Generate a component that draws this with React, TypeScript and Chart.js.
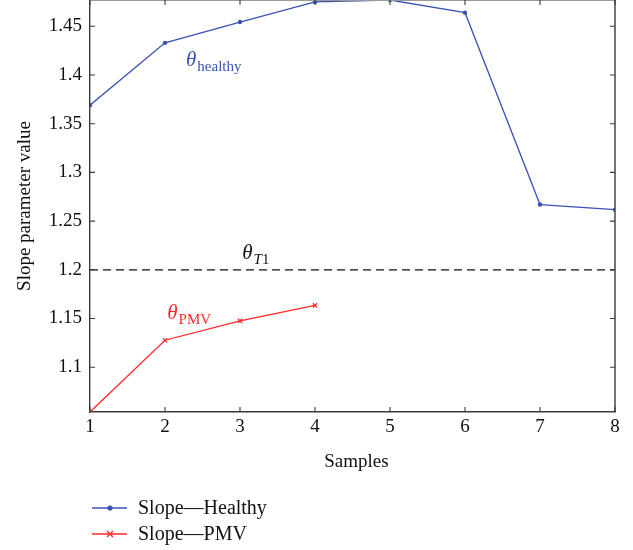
import React, { useEffect, useRef } from 'react';
import { Chart, registerables } from 'chart.js';

Chart.register(...registerables);

// Sample index on the x axis
const samples = [1, 2, 3, 4, 5, 6, 7, 8];
// Slope parameter estimates
const healthySlope = [1.369, 1.433, 1.4544, 1.475, 1.477, 1.464, 1.267, 1.2617];
const pmvSlope = [1.054, 1.1277, 1.1476, 1.1634];
// Decision threshold θ_T1
const thresholdT1 = 1.2;

const xTicks = [1, 2, 3, 4, 5, 6, 7, 8];
const yTicks = [1.1, 1.15, 1.2, 1.25, 1.3, 1.35, 1.4, 1.45];
const yTickLabels = ['1.1', '1.15', '1.2', '1.25', '1.3', '1.35', '1.4', '1.45'];
const yMin = 1.054;
const yMax = 1.477;

const xTitle = 'Samples';
const yTitle = 'Slope parameter value';
const legendLabels = ['Slope\u2014Healthy', 'Slope\u2014PMV'];

// In-plot labels: [x, y] in data units, then the text pieces
type Piece = { t: string; italic?: boolean; sub?: boolean };
const curveLabels: { x: number; y: number; color: string; pieces: Piece[] }[] = [
  { x: 2.28, y: 1.409, color: '#3a52b4', pieces: [{ t: '\u03b8', italic: true }, { t: 'healthy', sub: true }] },
  { x: 3.03, y: 1.211, color: '#111111', pieces: [{ t: '\u03b8', italic: true }, { t: 'T', italic: true, sub: true }, { t: '1', sub: true }] },
  { x: 2.03, y: 1.149, color: '#ff2a2a', pieces: [{ t: '\u03b8', italic: true }, { t: 'PMV', sub: true }] },
];

const BLUE = '#3a52b4';
const RED = '#ff2a2a';
const AXIS = '#3a3a3a';
const SERIF = '"Liberation Serif", "DejaVu Serif", serif';
const FS = 19;

const framePlugin = {
  id: 'frame',
  afterDraw(chart: any) {
    const { ctx, chartArea } = chart;
    const { left, right, top, bottom } = chartArea;
    const xs = chart.scales.x;
    const ys = chart.scales.y;
    ctx.save();
    // box: top and right sides
    ctx.strokeStyle = '#9a9a9a';
    ctx.lineWidth = 1;
    ctx.beginPath();
    ctx.moveTo(left, top + 0.5);
    ctx.lineTo(right, top + 0.5);
    ctx.stroke();
    ctx.strokeStyle = AXIS;
    ctx.lineWidth = 1.4;
    ctx.beginPath();
    ctx.moveTo(right, top);
    ctx.lineTo(right, bottom);
    ctx.stroke();
    // inward ticks
    const tl = 5;
    ctx.lineWidth = 1.1;
    ctx.strokeStyle = AXIS;
    ctx.beginPath();
    xTicks.forEach((v) => {
      const px = xs.getPixelForValue(v);
      ctx.moveTo(px, bottom);
      ctx.lineTo(px, bottom - tl);
      ctx.moveTo(px, top);
      ctx.lineTo(px, top + tl);
    });
    yTicks.forEach((v) => {
      const py = ys.getPixelForValue(v);
      ctx.moveTo(left, py);
      ctx.lineTo(left + tl, py);
      ctx.moveTo(right, py);
      ctx.lineTo(right - tl, py);
    });
    ctx.stroke();

    // x axis title
    ctx.fillStyle = '#111111';
    ctx.font = `${FS}px ${SERIF}`;
    ctx.textAlign = 'center';
    ctx.textBaseline = 'middle';
    ctx.fillText(xTitle, (left + right) / 2 + 4, bottom + 50);

    // curve labels
    curveLabels.forEach((lab) => {
      let cx = xs.getPixelForValue(lab.x);
      const base = ys.getPixelForValue(lab.y);
      ctx.fillStyle = lab.color;
      ctx.textBaseline = 'alphabetic';
      ctx.textAlign = 'left';
      lab.pieces.forEach((p) => {
        const size = p.sub ? 15 : 21;
        ctx.font = `${p.italic ? 'italic ' : ''}${size}px ${SERIF}`;
        const y = p.sub ? base + 5 : base;
        ctx.fillText(p.t, cx, y);
        cx += ctx.measureText(p.t).width + (p.sub ? 0 : 1);
      });
    });

    // legend below the axes
    const items = [
      { label: legendLabels[0], color: BLUE, marker: 'dot' },
      { label: legendLabels[1], color: RED, marker: 'cross' },
    ];
    items.forEach((it, i) => {
      const y = 508 + i * 26;
      ctx.strokeStyle = it.color;
      ctx.fillStyle = it.color;
      ctx.lineWidth = 1.3;
      ctx.beginPath();
      ctx.moveTo(92, y);
      ctx.lineTo(127, y);
      ctx.stroke();
      const mx = 110;
      if (it.marker === 'dot') {
        ctx.beginPath();
        ctx.arc(mx, y, 2.6, 0, Math.PI * 2);
        ctx.fill();
      } else {
        ctx.lineWidth = 1.4;
        ctx.beginPath();
        ctx.moveTo(mx - 3, y - 3);
        ctx.lineTo(mx + 3, y + 3);
        ctx.moveTo(mx + 3, y - 3);
        ctx.lineTo(mx - 3, y + 3);
        ctx.stroke();
      }
      ctx.fillStyle = '#111111';
      ctx.font = `20px ${SERIF}`;
      ctx.textAlign = 'left';
      ctx.textBaseline = 'middle';
      ctx.fillText(it.label, 138, y + 1);
    });
    ctx.restore();
  },
};

export default function App() {
  const canvasRef = useRef<HTMLCanvasElement | null>(null);

  useEffect(() => {
    document.body.style.margin = '0';
    const canvas = canvasRef.current;
    if (!canvas) return;
    const chart = new Chart(canvas, {
      type: 'line',
      data: {
        datasets: [
          {
            label: legendLabels[0],
            data: samples.map((s, i) => ({ x: s, y: healthySlope[i] })),
            borderColor: BLUE,
            backgroundColor: BLUE,
            borderWidth: 1.3,
            pointStyle: 'circle',
            pointRadius: 2.2,
            pointBorderWidth: 0,
            tension: 0,
          },
          {
            label: legendLabels[1],
            data: pmvSlope.map((v, i) => ({ x: samples[i], y: v })),
            borderColor: RED,
            backgroundColor: RED,
            borderWidth: 1.3,
            pointStyle: 'crossRot',
            pointRadius: 3,
            pointBorderWidth: 1.3,
            tension: 0,
          },
          {
            label: 'threshold',
            data: [
              { x: samples[0], y: thresholdT1 },
              { x: samples[samples.length - 1], y: thresholdT1 },
            ],
            borderColor: '#111111',
            borderWidth: 1.3,
            borderDash: [8, 5],
            pointRadius: 0,
          },
        ],
      },
      options: {
        responsive: false,
        animation: false,
        devicePixelRatio: 1,
        layout: { autoPadding: false, padding: { top: 0, right: 18, left: 0, bottom: 0 } },
        plugins: {
          legend: { display: false },
          tooltip: { enabled: false },
        },
        scales: {
          x: {
            type: 'linear',
            min: 1,
            max: 8,
            afterFit: (s: any) => {
              s.height = 138;
              s.paddingLeft = 0;
              s.paddingRight = 0;
            },
            afterBuildTicks: (s: any) => {
              s.ticks = xTicks.map((v) => ({ value: v }));
            },
            grid: { display: false, drawTicks: false },
            border: { display: true, color: AXIS, width: 1.4 },
            ticks: {
              color: '#111111',
              padding: 4,
              font: { family: SERIF, size: FS },
              maxRotation: 0,
              callback: (v: any) => String(v),
            },
          },
          y: {
            type: 'linear',
            min: yMin,
            max: yMax,
            afterFit: (s: any) => {
              s.width = 90;
              s.paddingTop = 0;
              s.paddingBottom = 0;
            },
            afterBuildTicks: (s: any) => {
              s.ticks = yTicks.map((v) => ({ value: v }));
            },
            grid: { display: false, drawTicks: false },
            border: { display: true, color: AXIS, width: 1.4 },
            ticks: {
              color: '#111111',
              padding: 8,
              font: { family: SERIF, size: FS },
              callback: (v: any) => {
                const idx = yTicks.findIndex((t) => Math.abs(t - v) < 1e-9);
                return idx >= 0 ? yTickLabels[idx] : '';
              },
            },
            title: {
              display: true,
              text: yTitle,
              color: '#111111',
              font: { family: SERIF, size: FS },
              padding: { top: 14, bottom: 0 },
            },
          },
        },
      },
      plugins: [framePlugin],
    });
    return () => chart.destroy();
  }, []);

  return (
    <div style={{ position: 'absolute', left: 0, top: 0, width: 633, height: 550, background: '#ffffff' }}>
      <canvas ref={canvasRef} width={633} height={550} />
    </div>
  );
}
